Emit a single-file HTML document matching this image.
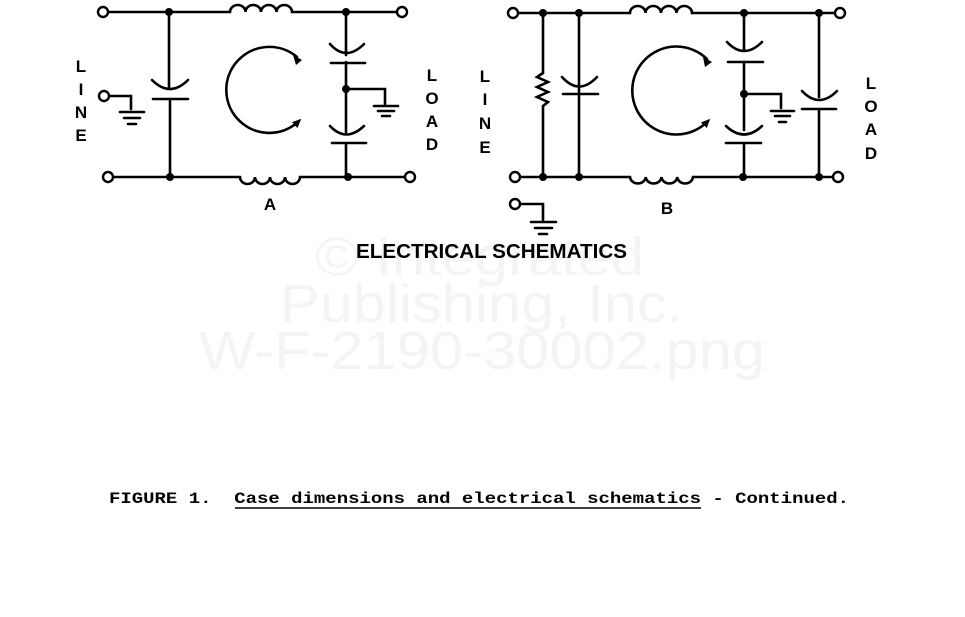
<!DOCTYPE html>
<html><head><meta charset="utf-8"><style>
html,body{margin:0;padding:0;background:#fff;}
svg{display:block;}
</style></head><body>
<svg width="965" height="617" viewBox="0 0 965 617" xmlns="http://www.w3.org/2000/svg">
<defs>
<marker id="ah" markerWidth="10" markerHeight="10" refX="6" refY="5" orient="auto" markerUnits="userSpaceOnUse">
<path d="M0,1 L9,5 L0,9 Z" fill="#000"/></marker>
</defs>
<g fill="#f4f4f4" font-family="Liberation Sans, sans-serif" font-size="54">
<text x="315" y="275" textLength="329" lengthAdjust="spacingAndGlyphs">© Integrated</text>
<text x="280" y="322" textLength="403" lengthAdjust="spacingAndGlyphs">Publishing, Inc.</text>
<text x="199" y="369" textLength="566" lengthAdjust="spacingAndGlyphs">W-F-2190-30002.png</text>
</g>
<g stroke="#000" stroke-width="2.6" fill="none" stroke-linecap="round">
<path d="M108,12 H230 M292,12 H397"/>
<path d="M230,12 a7.75,7 0 0 1 15.5,0 a7.75,7 0 0 1 15.5,0 a7.75,7 0 0 1 15.5,0 a7.75,7 0 0 1 15.5,0"/>
<path d="M113,177 H240 M300,177 H405"/>
<path d="M240,177 a7.5,7 0 0 0 15,0 a7.5,7 0 0 0 15,0 a7.5,7 0 0 0 15,0 a7.5,7 0 0 0 15,0"/>
<path d="M169,12 V88 M170,99 V177"/>
<path d="M152,80 Q170,98 188,80"/>
<path d="M153,99 H188"/>
<path d="M109,96 H131 V109"/>
<path d="M120,112 H144 M124,118 H140 M128,124 H136"/>
<path d="M346,12 V55 M346,62 V132 M346,143 V177"/>
<path d="M330,44 Q346,62 364,44"/>
<path d="M331,63 H365"/>
<path d="M330,126 Q346,143 364,126"/>
<path d="M332,143 H366"/>
<path d="M346,89 H385 V104"/>
<path d="M374,106 H398 M378,111 H394 M382,116 H390"/>
<path d="M297,57 A43,43 0 1 0 299,121" marker-end="url(#ah)"/>
<path d="M518,13 H630 M692,13 H835"/>
<path d="M630,13 a7.75,7 0 0 1 15.5,0 a7.75,7 0 0 1 15.5,0 a7.75,7 0 0 1 15.5,0 a7.75,7 0 0 1 15.5,0"/>
<path d="M520,177 H630 M693,177 H833"/>
<path d="M630,177 a7.9,7 0 0 0 15.75,0 a7.9,7 0 0 0 15.75,0 a7.9,7 0 0 0 15.75,0 a7.9,7 0 0 0 15.75,0"/>
<path d="M543,13 V73 L537,77 L548,82 L537,87 L548,92 L537,97 L548,102 L543,106 V177"/>
<path d="M579,13 V92 M579,94 V177"/>
<path d="M562,77 Q579,96 597,77"/>
<path d="M563,94 H598"/>
<path d="M744,13 V50 M744,62 V130 M744,143 V177"/>
<path d="M727,42 Q744,60 762,42"/>
<path d="M728,62 H763"/>
<path d="M726,126 Q744,143 762,126"/>
<path d="M726,143 H761"/>
<path d="M744,94 H781 V108"/>
<path d="M771,111 H794 M775,116 H790 M779,122 H786"/>
<path d="M819,13 V97 M819,109 V177"/>
<path d="M802,91 Q819,109 837,91"/>
<path d="M802,109 H836"/>
<path d="M520,204 H543 V220"/>
<path d="M531,222 H556 M535,228 H552 M539,234 H547"/>
<path d="M707,59 A44,44 0 1 0 708,121" marker-end="url(#ah)"/>
</g>
<path d="M293,55 L302,60 L296,65 Z" fill="#000"/>
<path d="M703,57 L712,62 L705,67 Z" fill="#000"/>
<g fill="#fff" stroke="#000" stroke-width="2.4">
<circle cx="103" cy="12" r="5"/><circle cx="402" cy="12" r="5"/>
<circle cx="108" cy="177" r="5"/><circle cx="410" cy="177" r="5"/>
<circle cx="104" cy="96" r="5"/>
<circle cx="513" cy="13" r="5"/><circle cx="840" cy="13" r="5"/>
<circle cx="515" cy="177" r="5"/><circle cx="838" cy="177" r="5"/>
<circle cx="515" cy="204" r="5"/>
</g>
<g fill="#000">
<circle cx="169" cy="12" r="4"/><circle cx="346" cy="12" r="4"/>
<circle cx="170" cy="177" r="4"/><circle cx="348" cy="177" r="4"/>
<circle cx="346" cy="89" r="4"/>
<circle cx="543" cy="13" r="4"/><circle cx="579" cy="13" r="4"/>
<circle cx="744" cy="13" r="4"/><circle cx="819" cy="13" r="4"/>
<circle cx="543" cy="177" r="4"/><circle cx="579" cy="177" r="4"/>
<circle cx="743" cy="177" r="4"/><circle cx="819" cy="177" r="4"/>
<circle cx="744" cy="94" r="4"/>
</g>
<g font-family="Liberation Sans, sans-serif" font-size="17" font-weight="bold" text-anchor="middle" fill="#000">
<text x="81" y="72">L</text><text x="81" y="95">I</text><text x="81" y="118">N</text><text x="81" y="141">E</text>
<text x="432" y="81">L</text><text x="432" y="104">O</text><text x="432" y="127">A</text><text x="432" y="150">D</text>
<text x="485" y="82">L</text><text x="485" y="105">I</text><text x="485" y="129">N</text><text x="485" y="153">E</text>
<text x="871" y="89">L</text><text x="871" y="112">O</text><text x="871" y="135">A</text><text x="871" y="159">D</text>
<text x="270" y="210">A</text><text x="667" y="214">B</text>
</g>
<text x="356" y="258" font-family="Liberation Sans, sans-serif" font-size="20" font-weight="bold" textLength="271" lengthAdjust="spacingAndGlyphs">ELECTRICAL SCHEMATICS</text>
<text x="109" y="503" font-family="Liberation Mono, monospace" font-size="16" font-weight="bold" textLength="740" lengthAdjust="spacingAndGlyphs">FIGURE 1.&#160; Case dimensions and electrical schematics - Continued.</text>
<path d="M235,508 H701" stroke="#000" stroke-width="1.5"/>
</svg>
</body></html>
